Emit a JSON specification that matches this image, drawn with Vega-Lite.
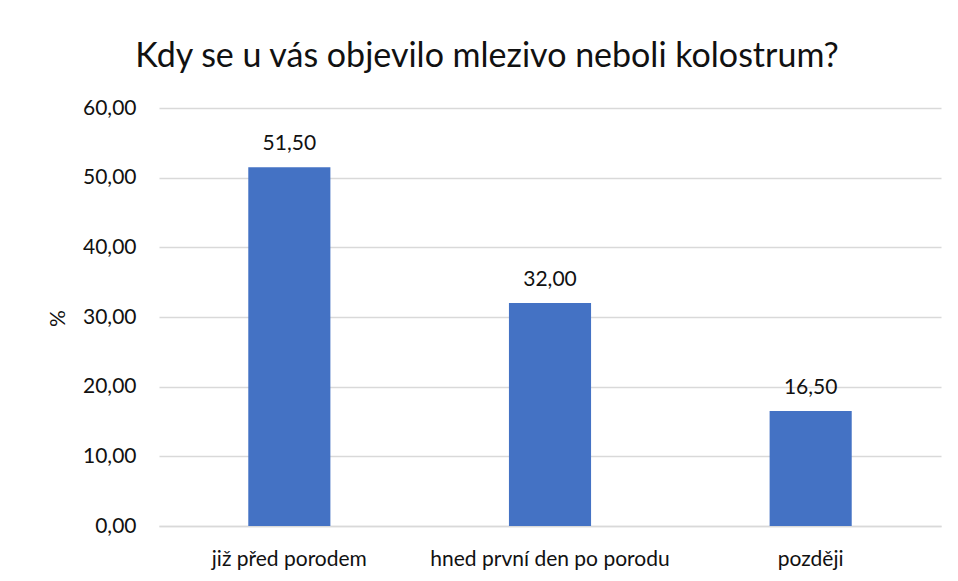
{
  "$schema": "https://vega.github.io/schema/vega-lite/v6.json",
  "width": 782,
  "height": 418,
  "autosize": {"type": "none"},
  "padding": {"left": 159, "top": 108, "right": 17, "bottom": 55},
  "background": "white",
  "config": {
    "view": {"stroke": null},
    "font": "Lato",
    "locale": {
      "number": {"decimal": ",", "thousands": " ", "grouping": [3], "currency": ["", " Kč"]}
    }
  },
  "title": {
    "text": "Kdy se u vás objevilo mlezivo neboli kolostrum?",
    "font": "Lato",
    "fontSize": 34,
    "fontWeight": "normal",
    "color": "#111111",
    "anchor": "middle",
    "dx": -63,
    "baseline": "alphabetic",
    "offset": 42,
    "dy": 46
  },
  "data": {
    "values": [
      {"kategorie": "již před porodem", "procento": 51.5},
      {"kategorie": "hned první den po porodu", "procento": 32.0},
      {"kategorie": "později", "procento": 16.5}
    ]
  },
  "encoding": {
    "x": {
      "field": "kategorie",
      "type": "nominal",
      "sort": null,
      "scale": {"paddingInner": 0.685, "paddingOuter": 0.3425},
      "axis": {
        "title": null,
        "labelAngle": 0,
        "labelFont": "Lato",
        "labelFontSize": 21,
        "labelColor": "#111111",
        "labelBaseline": "alphabetic",
        "labelPadding": 39,
        "labelLimit": 400,
        "ticks": false,
        "domainColor": "#d9d9d9",
        "domainWidth": 1.5
      }
    },
    "y": {
      "field": "procento",
      "type": "quantitative",
      "scale": {"domain": [0, 60]},
      "axis": {
        "title": "%",
        "titleFont": "Lato",
        "titleFontSize": 21,
        "titleFontWeight": "normal",
        "titleColor": "#111111",
        "titleX": -101,
        "titleY": 210,
        "titleAlign": "center",
        "titleBaseline": "middle",
        "values": [0, 10, 20, 30, 40, 50, 60],
        "format": ".2f",
        "labelFont": "Lato",
        "labelFontSize": 21,
        "labelColor": "#111111",
        "labelPadding": 23,
        "ticks": false,
        "domain": false,
        "gridColor": "#d9d9d9",
        "gridWidth": 1.5
      }
    }
  },
  "layer": [
    {
      "mark": {"type": "bar", "color": "#4472C4"}
    },
    {
      "mark": {"type": "text", "baseline": "alphabetic", "dy": -17, "fontSize": 21, "font": "Lato", "color": "#111111"},
      "encoding": {
        "text": {"field": "procento", "type": "quantitative", "format": ".2f"}
      }
    }
  ]
}
